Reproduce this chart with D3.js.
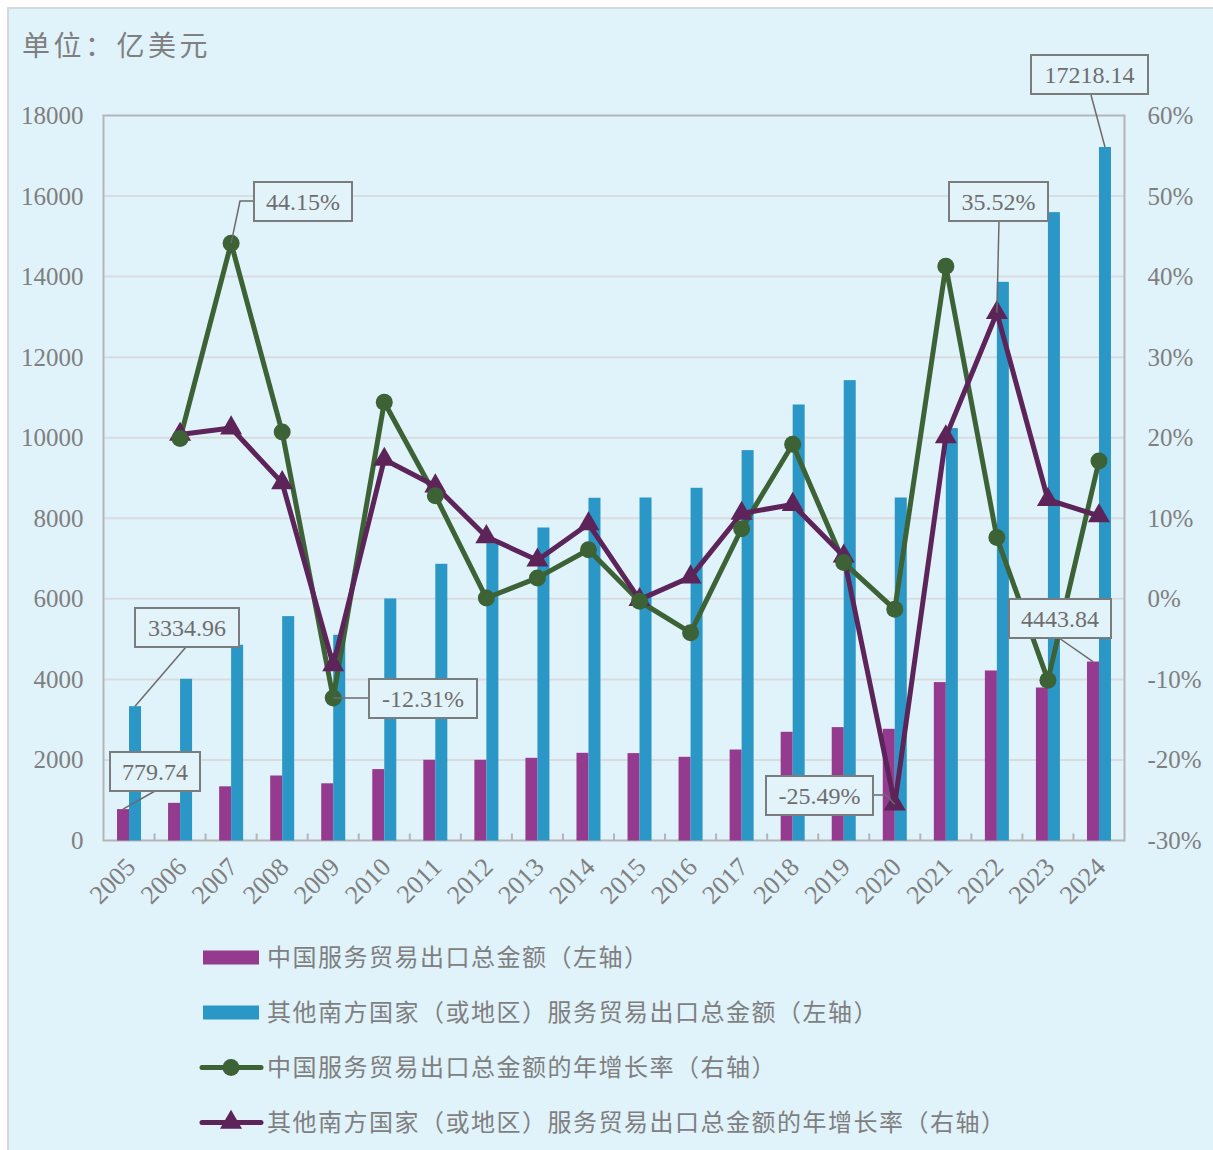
<!DOCTYPE html>
<html>
<head>
<meta charset="utf-8">
<script src="https://cdn.jsdelivr.net/npm/d3@7"></script>
<style>
  body { margin: 0; background: #fff; }
  svg { display: block; }
</style>
</head>
<body>
<div id="chart"></div>
<script>
// data
var years = ["2005","2006","2007","2008","2009","2010","2011","2012","2013","2014",
             "2015","2016","2017","2018","2019","2020","2021","2022","2023","2024"];
var chinaExports = [779.74, 935, 1345, 1614, 1420, 1773, 2004, 2004, 2053, 2177,
                    2170, 2078, 2259, 2699, 2815, 2773, 3933, 4221, 3799, 4443.84];
var otherExports = [3334.96, 4015, 4859, 5571, 5107, 6009, 6870, 7384, 7771, 8509,
                    8516, 8757, 9692, 10825, 11430, 8516, 10239, 13871, 15601, 17218.14];
var chinaGrowth = [null, 19.9, 44.15, 20.7, -12.31, 24.4, 12.8, 0.1, 2.6, 6.1,
                   -0.3, -4.2, 8.7, 19.2, 4.5, -1.3, 41.3, 7.6, -10.1, 17.1];
var otherGrowth = [null, 20.4, 21.2, 14.4, -8.2, 17.3, 14.0, 7.7, 4.8, 9.3,
                   -0.1, 2.7, 10.6, 11.7, 5.3, -25.49, 20.1, 35.52, 12.3, 10.3];
var leftTicks = [0, 2000, 4000, 6000, 8000, 10000, 12000, 14000, 16000, 18000];
var rightTicks = [-30, -20, -10, 0, 10, 20, 30, 40, 50, 60];
var legendLabels = ["中国服务贸易出口总金额（左轴）",
                    "其他南方国家（或地区）服务贸易出口总金额（左轴）",
                    "中国服务贸易出口总金额的年增长率（右轴）",
                    "其他南方国家（或地区）服务贸易出口总金额的年增长率（右轴）"];

var W = 1213, H = 1150;
var plotL = 103.5, plotR = 1124.5, plotT = 115.5, plotB = 840.5;
var textGray = "#7f7f7f";
var serif = "'Liberation Serif', 'Times New Roman', serif";
var cjk = "'Noto Sans CJK SC', sans-serif";
var purple = "#953b8f", blue = "#2a97c6", green = "#3c6235", plum = "#5c2459";

var svg = d3.select("#chart").append("svg")
    .attr("width", W)
    .attr("height", H);

// card background
svg.append("rect")
    .attr("x", 8).attr("y", 8)
    .attr("width", W - 4).attr("height", H)
    .attr("fill", "#e0f2fa")
    .attr("stroke", "#d6d9db")
    .attr("stroke-width", 2);

svg.append("text")
    .attr("x", 22).attr("y", 56)
    .attr("font-family", cjk)
    .attr("font-size", "28px")
    .attr("letter-spacing", "3.5px")
    .attr("fill", textGray)
    .text("单位：亿美元");

var x = d3.scaleBand().domain(years).range([plotL, plotR]);
var bw = x.bandwidth();
var xs = d3.scaleBand().domain(["china", "other"]).range([bw / 2 - 12, bw / 2 + 12]);
var yL = d3.scaleLinear().domain([0, 18000]).range([plotB, plotT]);
var yR = d3.scaleLinear().domain([-30, 60]).range([plotB, plotT]);

// grid
svg.append("g")
    .selectAll("line")
    .data(leftTicks.slice(1, -1))
    .enter()
    .append("line")
    .attr("x1", plotL).attr("x2", plotR)
    .attr("y1", function(d){ return yL(d); })
    .attr("y2", function(d){ return yL(d); })
    .attr("stroke", "#d9dcdf")
    .attr("stroke-width", 2);

// plot border
svg.append("rect")
    .attr("x", plotL).attr("y", plotT)
    .attr("width", plotR - plotL).attr("height", plotB - plotT)
    .attr("fill", "none")
    .attr("stroke", "#b3b5b7")
    .attr("stroke-width", 2);

// axes
var axisL = svg.append("g")
    .attr("transform", "translate(" + plotL + ",0)")
    .call(d3.axisLeft(yL).tickValues(leftTicks).tickSize(0).tickPadding(20).tickFormat(d3.format("d")));
var axisR = svg.append("g")
    .attr("transform", "translate(" + plotR + ",0)")
    .call(d3.axisRight(yR).tickValues(rightTicks).tickSize(0).tickPadding(23).tickFormat(function(d){ return d + "%"; }));
var axisB = svg.append("g")
    .attr("transform", "translate(0," + plotB + ")")
    .call(d3.axisBottom(x).tickSize(0).tickPadding(0));

[axisL, axisR, axisB].forEach(function(a) {
    a.select(".domain").remove();
    a.selectAll("text")
        .attr("font-family", serif)
        .attr("font-size", "25px")
        .attr("fill", textGray);
});

axisB.selectAll("text")
    .attr("font-size", "26px")
    .attr("text-anchor", "end")
    .attr("dy", null)
    .attr("y", null)
    .attr("transform", "translate(8,28) rotate(-45)");

// inner tick marks at category boundaries
svg.append("g")
    .selectAll("line")
    .data(years.slice(1))
    .enter()
    .append("line")
    .attr("x1", function(d){ return x(d); })
    .attr("x2", function(d){ return x(d); })
    .attr("y1", plotB).attr("y2", plotB - 7)
    .attr("stroke", "#b3b5b7")
    .attr("stroke-width", 2);

// bars
svg.append("g")
    .selectAll("rect")
    .data(chinaExports)
    .enter()
    .append("rect")
    .attr("x", function(d, i){ return x(years[i]) + xs("china"); })
    .attr("y", function(d){ return yL(d); })
    .attr("width", xs.bandwidth())
    .attr("height", function(d){ return plotB - yL(d); })
    .attr("fill", purple);

svg.append("g")
    .selectAll("rect")
    .data(otherExports)
    .enter()
    .append("rect")
    .attr("x", function(d, i){ return x(years[i]) + xs("other"); })
    .attr("y", function(d){ return yL(d); })
    .attr("width", xs.bandwidth())
    .attr("height", function(d){ return plotB - yL(d); })
    .attr("fill", blue);

// growth lines
var cx = function(i) { return x(years[i]) + bw / 2; };
var line = d3.line()
    .defined(function(d){ return d != null; })
    .x(function(d, i){ return cx(i); })
    .y(function(d){ return yR(d); });

function points(arr) {
    return arr.map(function(v, i){ return {i: i, v: v}; })
              .filter(function(p){ return p.v != null; });
}

svg.append("path")
    .datum(chinaGrowth)
    .attr("d", line)
    .attr("fill", "none")
    .attr("stroke", green)
    .attr("stroke-width", 5)
    .attr("stroke-linejoin", "round");

svg.append("path")
    .datum(otherGrowth)
    .attr("d", line)
    .attr("fill", "none")
    .attr("stroke", plum)
    .attr("stroke-width", 5)
    .attr("stroke-linejoin", "round");

var tri = d3.symbol().type(d3.symbolTriangle).size(210);

svg.append("g")
    .selectAll("path")
    .data(points(otherGrowth))
    .enter()
    .append("path")
    .attr("d", tri)
    .attr("transform", function(p){ return "translate(" + cx(p.i) + "," + yR(p.v) + ")"; })
    .attr("fill", plum);

svg.append("g")
    .selectAll("circle")
    .data(points(chinaGrowth))
    .enter()
    .append("circle")
    .attr("cx", function(p){ return cx(p.i); })
    .attr("cy", function(p){ return yR(p.v); })
    .attr("r", 8.5)
    .attr("fill", green);

// callouts: box corner, leader start, and the point it marks
var callouts = [
    {text: "779.74",   px: function(){ return x("2005") + xs("china") + 6; },  py: function(){ return yL(chinaExports[0]); },  bx: 110,  by: 752, w: 90,  lx: 155,  ly: 791},
    {text: "3334.96",  px: function(){ return x("2005") + xs("other") + 6; },  py: function(){ return yL(otherExports[0]); },  bx: 135,  by: 608, w: 104, lx: 186,  ly: 647},
    {text: "44.15%",   px: function(){ return cx(2); },  py: function(){ return yR(chinaGrowth[2]); },  bx: 254,  by: 182, w: 98,  lx: 254,  ly: 201, elbow: [240, 201]},
    {text: "-12.31%",  px: function(){ return cx(4); },  py: function(){ return yR(chinaGrowth[4]); },  bx: 369,  by: 679, w: 108, lx: 369,  ly: 698},
    {text: "-25.49%",  px: function(){ return cx(15); }, py: function(){ return yR(otherGrowth[15]); }, bx: 766,  by: 776, w: 107, lx: 873,  ly: 795, elbow: [886, 795]},
    {text: "35.52%",   px: function(){ return cx(17); }, py: function(){ return yR(otherGrowth[17]); }, bx: 949,  by: 182, w: 99,  lx: 999,  ly: 221},
    {text: "17218.14", px: function(){ return x("2024") + xs("other") + 6; },  py: function(){ return yL(otherExports[19]); }, bx: 1031, by: 55, w: 117, lx: 1091, ly: 95},
    {text: "4443.84",  px: function(){ return x("2024") + xs("china") + 6; },  py: function(){ return yL(chinaExports[19]); }, bx: 1009, by: 599, w: 102, lx: 1059, ly: 638}
];

var co = svg.append("g");
callouts.forEach(function(c) {
    var pts = [[c.lx, c.ly]];
    if (c.elbow) pts.push(c.elbow);
    pts.push([c.px(), c.py()]);
    co.append("path")
        .attr("d", d3.line()(pts))
        .attr("fill", "none")
        .attr("stroke", "#6b6b6b")
        .attr("stroke-width", 1.5);
    co.append("rect")
        .attr("x", c.bx).attr("y", c.by)
        .attr("width", c.w).attr("height", 39)
        .attr("fill", "#e3f3fa")
        .attr("stroke", "#7a7c7e")
        .attr("stroke-width", 2);
    co.append("text")
        .attr("x", c.bx + c.w / 2).attr("y", c.by + 28)
        .attr("text-anchor", "middle")
        .attr("font-family", serif)
        .attr("font-size", "24px")
        .attr("fill", "#6e6e6e")
        .text(c.text);
});

// legend
var leg = svg.append("g");
var rows = leg.selectAll("g")
    .data(legendLabels)
    .enter()
    .append("g")
    .attr("transform", function(d, i){ return "translate(0," + (957.5 + i * 55) + ")"; });

rows.filter(function(d, i){ return i < 2; })
    .append("rect")
    .attr("x", 203).attr("y", -7)
    .attr("width", 56).attr("height", 14)
    .attr("fill", function(d, i){ return i === 0 ? purple : blue; });

rows.filter(function(d, i){ return i >= 2; })
    .append("line")
    .attr("x1", 202).attr("x2", 261)
    .attr("y1", 0).attr("y2", 0)
    .attr("stroke", function(d, i){ return i === 0 ? green : plum; })
    .attr("stroke-width", 5)
    .attr("stroke-linecap", "round");

rows.filter(function(d, i){ return i === 2; })
    .append("circle")
    .attr("cx", 231).attr("cy", 0).attr("r", 8.5)
    .attr("fill", green);

rows.filter(function(d, i){ return i === 3; })
    .append("path")
    .attr("d", tri)
    .attr("transform", "translate(231,0)")
    .attr("fill", plum);

rows.append("text")
    .attr("x", 267)
    .attr("y", 0)
    .attr("dy", "0.36em")
    .attr("font-family", cjk)
    .attr("font-size", "24px")
    .attr("letter-spacing", "1.5px")
    .attr("fill", textGray)
    .text(function(d){ return d; });
</script>
</body>
</html>
